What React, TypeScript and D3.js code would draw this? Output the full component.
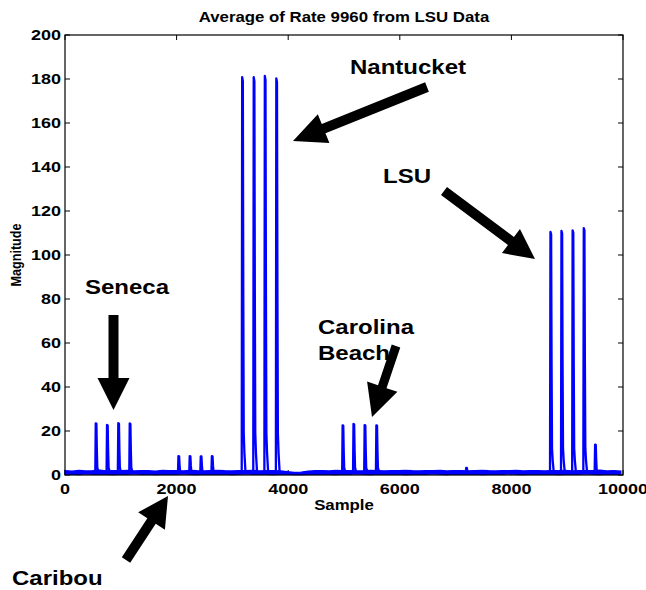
import React from 'react';
import * as d3 from 'd3';

// Average of Rate 9960 from LSU Data
const xTicks = [0, 2000, 4000, 6000, 8000, 10000];
const yTicks = [0, 20, 40, 60, 80, 100, 120, 140, 160, 180, 200];

const lastSample = 9960;

// pulses: position (sample) and peak magnitude
const spikeSamples = [551, 753, 955, 1160, 2033, 2235, 2433, 2632, 3175, 3382, 3581, 3787,
  4975, 5170, 5370, 5580, 7190, 8700, 8897, 9097, 9297, 9500];
const spikePeaks = [23.5, 22.8, 23.6, 23.4, 8.6, 8.6, 8.5, 8.6, 180.8, 180.8, 181.4, 180.3,
  22.6, 23.2, 22.7, 22.6, 3.2, 110.5, 111, 111.2, 112.2, 13.8];

// noise floor envelope, read every ~125 samples
const noiseHigh = [
  2.0, 1.7, 2.1, 1.8, 1.9, 2.2, 1.8, 2.0, 1.9, 2.1,
  1.8, 2.0, 1.9, 1.7, 2.1, 1.9, 2.0, 1.8, 2.1, 1.9,
  1.8, 2.0, 2.1, 1.9, 1.8, 2.0, 1.9, 2.1, 1.8, 1.9,
  2.0, 1.8, 1.5, 1.2, 1.3, 1.7, 1.9, 2.0, 1.8, 2.1,
  1.9, 2.0, 1.8, 1.9, 2.1, 2.0, 1.8, 1.9, 2.0, 2.1,
  1.9, 1.8, 2.0, 1.9, 2.1, 1.8, 2.0, 1.9, 1.8, 2.0,
  2.1, 1.9, 1.8, 2.0, 1.9, 2.1, 1.8, 1.9, 2.0, 1.8,
  2.0, 1.9, 2.1, 1.8, 1.9, 2.0, 1.9, 2.2, 1.8, 1.9,
  1.7,
];
const noiseLow = [
  0.3, 0.4, 0.2, 0.5, 0.3, 0.4, 0.3, 0.2, 0.4, 0.3,
  0.5, 0.3, 0.4, 0.2, 0.3, 0.4, 0.3, 0.5, 0.3, 0.2,
  0.4, 0.3, 0.3, 0.4, 0.2, 0.3, 0.5, 0.3, 0.4, 0.3,
  0.2, 0.3, 0.3, 0.2, 0.2, 0.3, 0.3, 0.4, 0.3, 0.2,
  0.4, 0.3, 0.5, 0.3, 0.2, 0.4, 0.3, 0.3, 0.4, 0.2,
  0.3, 0.4, 0.3, 0.5, 0.3, 0.2, 0.4, 0.3, 0.3, 0.4,
  0.2, 0.3, 0.4, 0.3, 0.5, 0.3, 0.2, 0.4, 0.3, 0.3,
  0.4, 0.2, 0.3, 0.4, 0.3, 0.5, 0.3, 0.2, 0.4, 0.3,
  0.3,
];

// shape of one pulse (sample offsets and fraction of the peak)
const pulseOffsets = [-8, 0, 12, 20, 28, 40, 60];
const pulseFractions = [0, 1, 0.99, 0.45, 0.1, 0.05, 0];

const annotations = [
  { lines: ['Nantucket'], x: 350, y: 74 },
  { lines: ['LSU'], x: 383, y: 183 },
  { lines: ['Seneca'], x: 85, y: 294 },
  { lines: ['Carolina', 'Beach'], x: 318, y: 334 },
  { lines: ['Caribou'], x: 12, y: 585 },
];

const arrows = [
  { x1: 427, y1: 87, x2: 293, y2: 141, shaft: 10, headW: 31, headL: 33 },
  { x1: 444, y1: 191, x2: 535, y2: 259, shaft: 10, headW: 30, headL: 30 },
  { x1: 113.5, y1: 315, x2: 113.5, y2: 410, shaft: 10, headW: 32, headL: 32 },
  { x1: 396, y1: 346, x2: 372, y2: 417, shaft: 9, headW: 32, headL: 32 },
  { x1: 126, y1: 560, x2: 168, y2: 496, shaft: 10, headW: 32, headL: 30 },
];

const width = 646;
const height = 590;
const marginTop = 35;
const marginLeft = 65;
const marginRight = 23;
const marginBottom = 115;
const FONT = '"Liberation Sans", Arial, Helvetica, sans-serif';
const SX = 1.2;

const arrowPath = (a: typeof arrows[number]) => {
  const dx = a.x2 - a.x1;
  const dy = a.y2 - a.y1;
  const len = Math.sqrt(dx * dx + dy * dy);
  const ux = dx / len, uy = dy / len;
  const px = -uy, py = ux;
  const bx = a.x2 - ux * a.headL, by = a.y2 - uy * a.headL;
  const s = a.shaft / 2, h = a.headW / 2;
  const pts = [
    [a.x1 + px * s, a.y1 + py * s],
    [bx + px * s, by + py * s],
    [bx + px * h, by + py * h],
    [a.x2, a.y2],
    [bx - px * h, by - py * h],
    [bx - px * s, by - py * s],
    [a.x1 - px * s, a.y1 - py * s],
  ];
  return 'M' + pts.map(p => p.join(',')).join('L') + 'Z';
};

const SText = ({ x, y, size, anchor = 'start', children }: any) => (
  <text
    transform={`translate(${x},${y}) scale(${SX},1)`}
    style={{ textAnchor: anchor }}
    fontFamily={FONT}
    fontWeight="bold"
    fontSize={size}
  >
    {children}
  </text>
);

const App = () => {
  const innerW = width - marginLeft - marginRight;
  const innerH = height - marginTop - marginBottom;

  const xScale = d3.scaleLinear().domain([0, 10000]).range([marginLeft, marginLeft + innerW]);
  const yScale = d3.scaleLinear().domain([0, 200]).range([marginTop + innerH, marginTop]);

  const step = lastSample / (noiseHigh.length - 1);
  const noise = noiseHigh.map((v, i) => ({ s: i * step, hi: v, lo: noiseLow[i] }));

  const band = d3.area<{ s: number; hi: number; lo: number }>()
    .x(d => xScale(d.s))
    .y0(d => yScale(d.lo))
    .y1(d => yScale(d.hi));

  const line = d3.line<[number, number]>()
    .x(d => xScale(d[0]))
    .y(d => yScale(d[1]));

  const base = 1.1;
  const pulses = spikeSamples.map((c, i) =>
    pulseOffsets.map((o, j) => [c + o, base + pulseFractions[j] * (spikePeaks[i] - base)] as [number, number])
  );

  const x0 = marginLeft, x1 = marginLeft + innerW;
  const y0 = marginTop + innerH, y1 = marginTop;
  const tickLen = 5;

  return (
    <svg width={width} height={height} style={{ position: 'absolute', left: 0, top: 0, background: '#fff' }}>
      <rect width={width} height={height} fill="#fff" />

      {/* inward ticks */}
      <g stroke="#000" strokeWidth={1}>
        {xTicks.map(t => (
          <g key={`xt-${t}`}>
            <line x1={xScale(t)} x2={xScale(t)} y1={y0} y2={y0 - tickLen} />
            <line x1={xScale(t)} x2={xScale(t)} y1={y1} y2={y1 + tickLen} />
          </g>
        ))}
        {yTicks.map(t => (
          <g key={`yt-${t}`}>
            <line x1={x0} x2={x0 + tickLen} y1={yScale(t)} y2={yScale(t)} />
            <line x1={x1} x2={x1 - tickLen} y1={yScale(t)} y2={yScale(t)} />
          </g>
        ))}
      </g>

      {/* data */}
      <path d={band(noise) || ''} fill="#0000ff" stroke="#0000ff" strokeWidth={1.4} />
      {pulses.map((p, i) => (
        <path key={`pulse-${i}`} d={line(p) || ''} fill="none" stroke="#0000ff" strokeWidth={2.3} strokeLinejoin="round" />
      ))}

      <rect x={x0} y={y1} width={innerW} height={innerH} fill="none" stroke="#000" strokeWidth={1.2} />

      {/* tick labels */}
      {xTicks.map(t => (
        <SText key={`xl-${t}`} x={xScale(t)} y={494} size={15} anchor="middle">{t}</SText>
      ))}
      {yTicks.map(t => (
        <SText key={`yl-${t}`} x={61} y={yScale(t) + 5.4} size={15} anchor="end">{t}</SText>
      ))}

      <SText x={(x0 + x1) / 2} y={22} size={14} anchor="middle">Average of Rate 9960 from LSU Data</SText>
      <SText x={(x0 + x1) / 2} y={510} size={14} anchor="middle">Sample</SText>
      <text
        transform={`translate(20.5,${(y0 + y1) / 2}) scale(${SX},1) rotate(-90)`}
        style={{ textAnchor: 'middle' }}
        fontFamily={FONT}
        fontWeight="bold"
        fontSize={12.6}
      >
        Magnitude
      </text>

      {/* annotations */}
      {arrows.map((a, i) => (
        <path key={`arrow-${i}`} d={arrowPath(a)} fill="#000" />
      ))}
      {annotations.map((a, i) =>
        a.lines.map((l, j) => (
          <SText key={`ann-${i}-${j}`} x={a.x} y={a.y + j * 26} size={20}>{l}</SText>
        ))
      )}
    </svg>
  );
};

export default App;
